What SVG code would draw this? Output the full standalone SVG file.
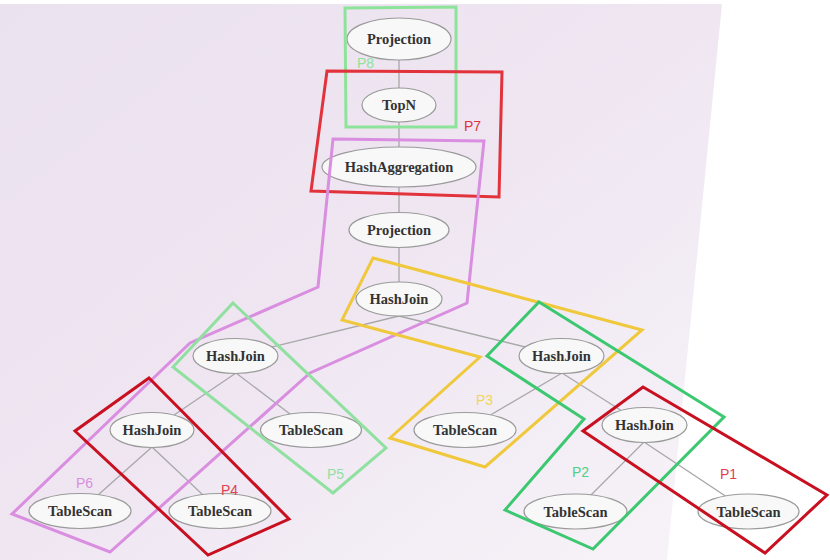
<svg xmlns="http://www.w3.org/2000/svg" width="830" height="560" viewBox="0 0 830 560">
<defs>
<linearGradient id="bg" x1="0" y1="0" x2="1" y2="1">
<stop offset="0" stop-color="#ebe2ef"/>
<stop offset="0.5" stop-color="#efe6f2"/>
<stop offset="1" stop-color="#f7f4f8"/>
</linearGradient>
<style>
.n ellipse{fill:#f8f8f8;stroke:#9a9a9a;stroke-width:1.2}
.n text{font-family:"Liberation Serif","Times New Roman",serif;font-weight:bold;font-size:14.5px;fill:#333;text-anchor:middle}
.e line{stroke:#a8a8a8;stroke-width:1.3}
.p{fill:none;stroke-width:3;stroke-linejoin:miter}
.lb{font-family:"Liberation Sans",Arial,sans-serif;font-size:14px}
</style>
</defs>
<rect width="830" height="560" fill="#ffffff"/>
<polygon points="0,4 722,4 667,560 0,560" fill="url(#bg)"/>

<g id="connectors" class="e">
<line x1="399" y1="60" x2="399" y2="105"/>
<line x1="399" y1="122" x2="399" y2="167"/>
<line x1="399" y1="187" x2="399" y2="230"/>
<line x1="399" y1="247" x2="399" y2="299"/>
<line x1="399" y1="316" x2="235" y2="356"/>
<line x1="399" y1="316" x2="562" y2="356"/>
<line x1="236" y1="373" x2="152" y2="430"/>
<line x1="236" y1="373" x2="311" y2="430"/>
<line x1="562" y1="373" x2="465" y2="430"/>
<line x1="562" y1="373" x2="644" y2="425"/>
<line x1="152" y1="447" x2="80" y2="511"/>
<line x1="152" y1="447" x2="220" y2="511"/>
<line x1="644" y1="442" x2="575" y2="511"/>
<line x1="644" y1="442" x2="748" y2="511"/>
</g>

<g id="n1" class="n"><ellipse cx="399" cy="39" rx="52" ry="21"/><text x="399" y="44">Projection</text></g>
<g id="n2" class="n"><ellipse cx="399" cy="105" rx="37" ry="17"/><text x="399" y="110">TopN</text></g>
<g id="n3" class="n"><ellipse cx="399" cy="167" rx="77" ry="20"/><text x="399" y="172">HashAggregation</text></g>
<g id="n4" class="n"><ellipse cx="399" cy="230" rx="50" ry="17.5"/><text x="399" y="235">Projection</text></g>
<g id="n5" class="n"><ellipse cx="399" cy="299" rx="43" ry="17"/><text x="399" y="304">HashJoin</text></g>
<g id="n6" class="n"><ellipse cx="235.5" cy="356" rx="42.5" ry="17.5"/><text x="235.5" y="361">HashJoin</text></g>
<g id="n7" class="n"><ellipse cx="561.5" cy="356" rx="42.5" ry="17.5"/><text x="561.5" y="361">HashJoin</text></g>
<g id="n8" class="n"><ellipse cx="152" cy="430" rx="42" ry="17.5"/><text x="152" y="435">HashJoin</text></g>
<g id="n9" class="n"><ellipse cx="311" cy="430" rx="50.5" ry="17.5"/><text x="311" y="435">TableScan</text></g>
<g id="n10" class="n"><ellipse cx="465" cy="430" rx="51" ry="17.5"/><text x="465" y="435">TableScan</text></g>
<g id="n11" class="n"><ellipse cx="644.5" cy="425" rx="42.5" ry="17.5"/><text x="644.5" y="430">HashJoin</text></g>
<g id="n12" class="n"><ellipse cx="80" cy="511" rx="51" ry="17.5"/><text x="80" y="516">TableScan</text></g>
<g id="n13" class="n"><ellipse cx="220" cy="511" rx="51" ry="17.5"/><text x="220" y="516">TableScan</text></g>
<g id="n14" class="n"><ellipse cx="575.5" cy="511.5" rx="51.5" ry="17.5"/><text x="575.5" y="516.5">TableScan</text></g>
<g id="n15" class="n"><ellipse cx="748.5" cy="511.5" rx="50.5" ry="17.5"/><text x="748.5" y="516.5">TableScan</text></g>

<g id="p8"><polygon class="p" stroke="#8ee39a" points="345,8 456,7 456,127 346,127"/><text class="lb" fill="#8ee39a" x="357" y="68">P8</text></g>
<g id="p7"><polygon class="p" stroke="#e2323c" points="327,71 502,72 499,197 311,191"/><text class="lb" fill="#e2323c" x="464" y="131">P7</text></g>
<g id="p6"><polygon class="p" stroke="#d98ee0" points="333,139 484,141 467,303 310,373 110,552 12,514 190,343 318,287"/><text class="lb" fill="#d98ee0" x="76" y="488">P6</text></g>
<g id="p5"><polygon class="p" stroke="#90e0a0" points="233,303 386,448 333,493 173,367"/><text class="lb" fill="#90e0a0" x="327" y="479">P5</text></g>
<g id="p4"><polygon class="p" stroke="#c81020" points="149,378 289,519 208,555 75,431"/><text class="lb" fill="#e04050" x="221" y="495">P4</text></g>
<g id="p3"><polygon class="p" stroke="#f0c83c" points="373,258 642,330 485,467 390,438 480,357 342,320"/><text class="lb" fill="#f0d850" x="476" y="405">P3</text></g>
<g id="p2"><polygon class="p" stroke="#3cc870" points="539,302 724,417 593,549 505,510 584,419 487,356"/><text class="lb" fill="#50d080" x="572" y="477">P2</text></g>
<g id="p1"><polygon class="p" stroke="#c81020" points="643,387 827,495 765,553 583,431"/><text class="lb" fill="#e04050" x="720" y="479">P1</text></g>
</svg>
